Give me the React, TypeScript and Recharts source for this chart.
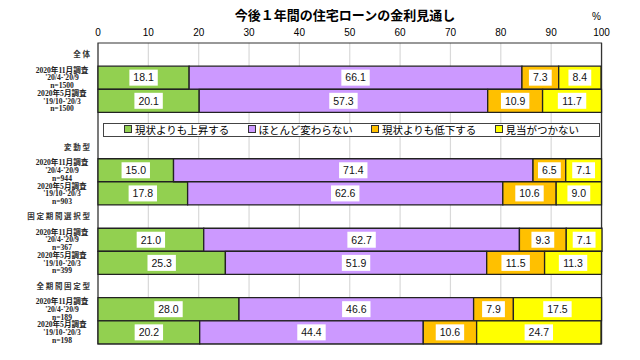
import { Bar, BarChart, CartesianGrid, LabelList, Legend, ReferenceArea, XAxis, YAxis } from "recharts";

const title = "今後１年間の住宅ローンの金利見通し";
const groups = ["全 体", "変 動 型", "固 定 期 間 選 択 型", "全 期 間 固 定 型"];
const surveys = ["2020年11月調査", "2020年5月調査"];
const periods = ["'20/4-'20/9", "'19/10-'20/3"];
const counts = [1500, 1500, 944, 903, 367, 399, 189, 198];
const seriesNames = ["現状よりも上昇する", "ほとんど変わらない", "現状よりも低下する", "見当がつかない"];
const rise = [18.1, 20.1, 15.0, 17.8, 21.0, 25.3, 28.0, 20.2];
const same = [66.1, 57.3, 71.4, 62.6, 62.7, 51.9, 46.6, 44.4];
const fall = [7.3, 10.9, 6.5, 10.6, 9.3, 11.5, 7.9, 10.6];
const unknown = [8.4, 11.7, 7.1, 9.0, 7.1, 11.3, 17.5, 24.7];
const ticks = [0, 10, 20, 30, 40, 50, 60, 70, 80, 90, 100];

const COLORS = ["#92D050", "#CC99FF", "#FFC000", "#FFFF00"];
const SERIES = [rise, same, fall, unknown];
const JP = "'Noto Sans CJK JP', sans-serif";
const SERIF = "'Liberation Serif', 'Noto Sans CJK JP', serif";
const SANS = "'Liberation Sans', Arial, sans-serif";

type Row = {
  key: string;
  header?: string;
  survey?: string;
  period?: string;
  n?: number;
  s0?: number;
  s1?: number;
  s2?: number;
  s3?: number;
};

const rows: Row[] = [];
groups.forEach((g, gi) => {
  rows.push({ key: `h${gi}`, header: g });
  surveys.forEach((s, si) => {
    const i = gi * 2 + si;
    rows.push({
      key: `r${i}`,
      survey: s,
      period: periods[si],
      n: counts[i],
      s0: SERIES[0][i],
      s1: SERIES[1][i],
      s2: SERIES[2][i],
      s3: SERIES[3][i],
    });
  });
  // the legend sits in its own empty row under the first group
  if (gi === 0) rows.push({ key: "legend" });
});

function RowTick(props: any) {
  const { x, y, payload } = props;
  const row = rows.find((r) => r.key === payload.value);
  if (!row || row.key === "legend") return null;
  if (row.header) {
    return (
      <text x={x} y={y} dy="0.35em" textAnchor="end" fontSize={7.5} fontWeight="bold" fill="#333" fontFamily={JP}>
        {row.header}
      </text>
    );
  }
  const cx = x - 28;
  return (
    <text textAnchor="middle" fontSize={7.6} fill="#222" fontFamily={SERIF} fontWeight="bold">
      <tspan x={cx} y={y - 7.6} dy="0.35em">{row.survey}</tspan>
      <tspan x={cx} y={y} dy="0.35em">{row.period}</tspan>
      <tspan x={cx} y={y + 7.6} dy="0.35em">{`n=${row.n}`}</tspan>
    </text>
  );
}

function ValueLabel(props: any) {
  const { x, y, width, height, value } = props;
  if (value == null) return null;
  const text = Number(value).toFixed(1);
  const w = text.length * 5.6 + 6;
  const cx = Number(x) + Number(width) / 2;
  const cy = Number(y) + Number(height) / 2;
  return (
    <g>
      <rect x={cx - w / 2} y={cy - 8} width={w} height={16} fill="#fff" />
      <text x={cx} y={cy} dy="0.36em" textAnchor="middle" fontSize={10.5} fill="#111" fontFamily={SANS}>
        {text}
      </text>
    </g>
  );
}

function LegendBox() {
  return (
    <div
      style={{
        position: "relative",
        height: 14,
        border: "1px solid #444",
        boxSizing: "border-box",
        background: "#fff",
        fontFamily: JP,
        fontSize: 10.5,
        lineHeight: "12px",
        color: "#000",
      }}
    >
      {seriesNames.map((name, i) => (
        <span key={name} style={{ position: "absolute", left: 20 + i * 123.5, top: 0, whiteSpace: "nowrap" }}>
          <span
            style={{
              display: "inline-block",
              width: 6,
              height: 6,
              border: "1px solid #333",
              background: COLORS[i],
              marginRight: 3,
              verticalAlign: "1px",
            }}
          />
          {name}
        </span>
      ))}
    </div>
  );
}

export default function App() {
  return (
    <div style={{ position: "absolute", left: 0, top: 0, width: 640, height: 360, background: "#fff" }}>
      <div
        style={{
          position: "absolute",
          left: 0,
          width: 690,
          top: 5,
          textAlign: "center",
          fontFamily: JP,
          fontWeight: "bold",
          fontSize: 13,
          color: "#000",
        }}
      >
        {title}
      </div>
      <div style={{ position: "absolute", left: 592, top: 11, fontFamily: SANS, fontSize: 10, color: "#000" }}>%</div>
      <BarChart
        width={640}
        height={360}
        data={rows}
        layout="vertical"
        barCategoryGap={0}
        margin={{ top: 18, right: 38, bottom: 16, left: 0 }}
      >
        <CartesianGrid horizontal={false} stroke="#d9d9d9" strokeWidth={1.2} />
        <XAxis
          type="number"
          orientation="top"
          domain={[0, 100]}
          ticks={ticks}
          height={25}
          tickLine={false}
          tickSize={5}
          tickMargin={2}
          axisLine={false}
          tick={{ fontSize: 10, fill: "#000", fontFamily: SANS }}
        />
        <YAxis
          type="category"
          dataKey="key"
          width={98}
          tickLine={false}
          tickSize={8}
          tickMargin={0}
          interval={0}
          axisLine={false}
          tick={<RowTick />}
        />
        <ReferenceArea x1={0} x2={100} fill="none" stroke="#333" strokeWidth={1.2} ifOverflow="visible" />
        <Legend
          verticalAlign="middle"
          align="center"
          layout="horizontal"
          content={<LegendBox />}
          wrapperStyle={{ left: 103, top: 123, width: 497, height: 14 }}
        />
        {seriesNames.map((name, i) => (
          <Bar
            key={name}
            name={name}
            dataKey={`s${i}`}
            stackId="a"
            fill={COLORS[i]}
            stroke="#222"
            strokeWidth={1.3}
            isAnimationActive={false}
          >
            <LabelList dataKey={`s${i}`} content={<ValueLabel />} />
          </Bar>
        ))}
      </BarChart>
    </div>
  );
}
